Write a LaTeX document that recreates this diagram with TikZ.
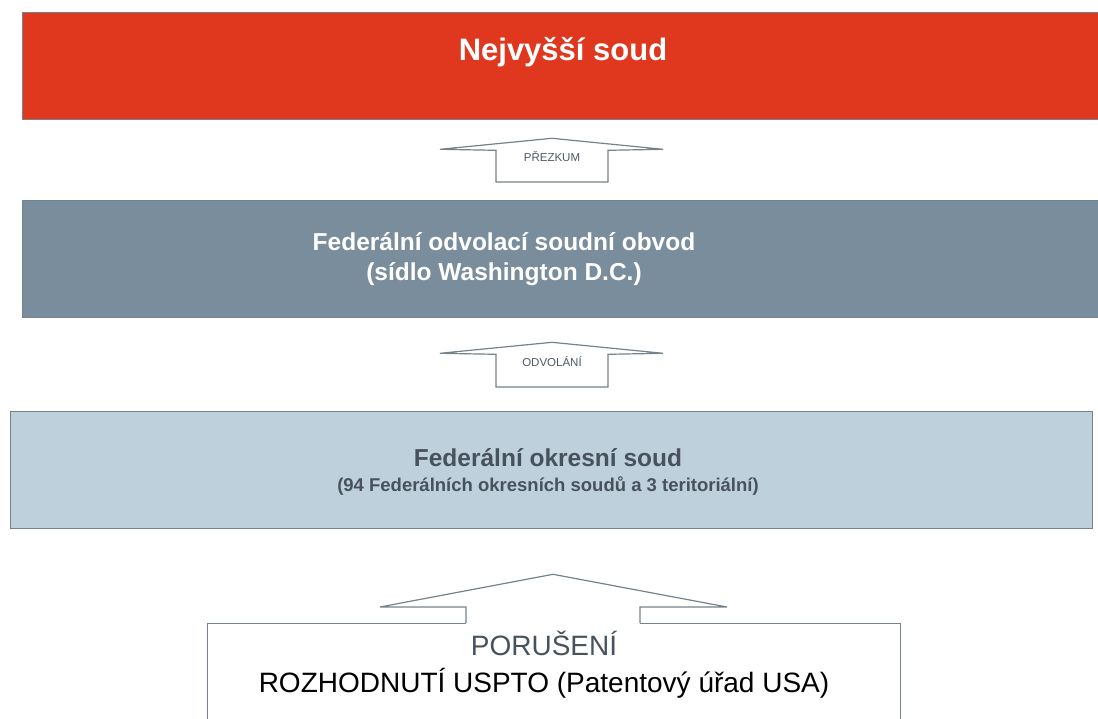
\documentclass[tikz,border=0pt]{standalone}
\usepackage{fontspec}
\setmainfont{Liberation Sans}
\usetikzlibrary{calc,positioning}
\definecolor{courtred}{HTML}{E0371F}
\definecolor{appealgrey}{HTML}{7A8D9D}
\definecolor{districtblue}{HTML}{BDD0DC}
\definecolor{rimgrey}{HTML}{76828B}
\definecolor{labelgrey}{HTML}{4E5A66}
\definecolor{darktext}{HTML}{48525C}

\begin{document}
\begin{tikzpicture}[x=1pt,y=-1pt,
  box/.style={draw=rimgrey,line width=1.3pt,anchor=north west,inner sep=0pt},
  blockarrow/.style={draw=rimgrey,line width=1.2pt,fill=white},
  title/.style={font=\bfseries\fontsize{24.5}{30}\selectfont,align=center},
  tag/.style={font=\fontsize{11.5}{13}\selectfont,text=labelgrey}]

\useasboundingbox (0,0) rectangle (1098,719);
\clip (0,0) rectangle (1098,719);

% courts
\node[box,fill=courtred,minimum width=1100pt,minimum height=107pt](supreme) at (22,12) {};
\node[text=white,font=\bfseries\fontsize{31}{36}\selectfont](supremetxt) at (563,52) {Nejvyšší soud};
\node[box,fill=appealgrey,minimum width=1100pt,minimum height=117pt](appeals) at (22,200) {};
\node[title,text=white](appealstxt) at (504,259) {Federální odvolací soudní obvod\\(sídlo Washington D.C.)};
\node[box,fill=districtblue,minimum width=1082pt,minimum height=117pt](district) at (10,411) {};
\node[align=center,text=darktext,font=\bfseries\fontsize{18.5}{25}\selectfont](districttxt) at (548,472)
  {{\fontsize{24.5}{25}\selectfont Federální okresní soud}\\(94 Federálních okresních soudů a 3 teritoriální)};
\node[box,fill=white,minimum width=693pt,minimum height=130pt](uspto) at (207,623) {};
\node[align=center,font=\fontsize{28}{37}\selectfont](usptotxt) at (544,665)
  {\textcolor{darktext}{PORUŠENÍ}\\ROZHODNUTÍ USPTO (Patentový úřad USA)};

% arrows
\coordinate (a1) at (552,0);
\coordinate (a3) at (553,0);
\draw[blockarrow] ($(supreme.south -| a1)+(0,18)$) -- ++(-112,11) -- ++(56,1)
  -- ($(appeals.north -| a1)+(-56,-18)$) -- ++(112,0)
  -- ($(supreme.south -| a1)+(56,30)$) -- ++(55,-1) -- cycle;
\node[tag](review) at ($(supreme.south -| a1)!0.46!(appeals.north -| a1)$) {PŘEZKUM};
\draw[blockarrow] ($(appeals.south -| a1)+(0,24)$) -- ++(-112,11) -- ++(56,1)
  -- ($(district.north -| a1)+(-56,-24)$) -- ++(112,0)
  -- ($(appeals.south -| a1)+(56,36)$) -- ++(55,-1) -- cycle;
\node[tag](appeal) at ($(appeals.south -| a1)!0.47!(district.north -| a1)$) {ODVOLÁNÍ};
\fill[white] ($(uspto.north -| a3)+(-87,-16)$) rectangle ($(uspto.north -| a3)+(87,2)$);
\draw[blockarrow,fill=none] ($(uspto.north -| a3)+(-87,0)$) -- ++(0,-16) -- ++(-86,0)
  -- ($(district.south -| a3)+(0,45)$) -- ($(uspto.north -| a3)+(174,-16)$)
  -- ++(-87,0) -- ++(0,16);

\end{tikzpicture}
\end{document}
